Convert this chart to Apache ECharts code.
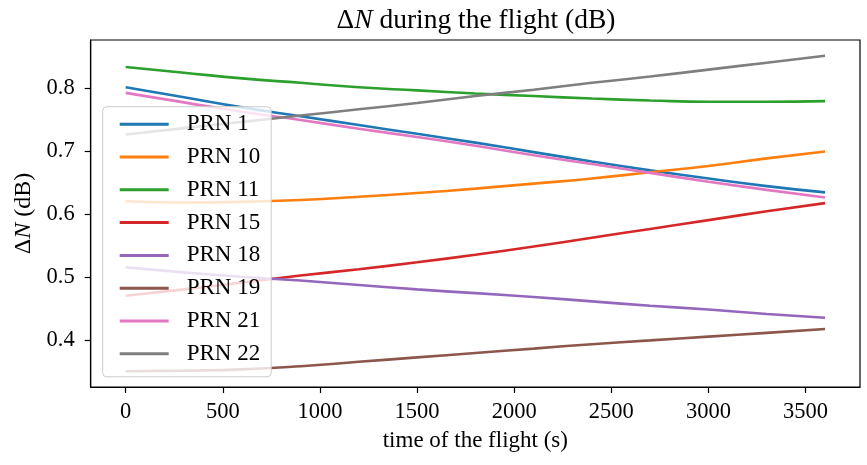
<!DOCTYPE html>
<html>
<head>
<meta charset="utf-8">
<script src="https://cdn.jsdelivr.net/npm/echarts@6/dist/echarts.min.js"></script>
<style>html,body{margin:0;padding:0;background:#fff}#c{width:867px;height:465px}</style>
</head>
<body>
<div id="c"></div>
<script>
const times = [0, 300, 600, 900, 1200, 1500, 1800, 2100, 2400, 2700, 3000, 3300, 3600];
const seriesNames = ['PRN 1', 'PRN 10', 'PRN 11', 'PRN 15', 'PRN 18', 'PRN 19', 'PRN 21', 'PRN 22'];
const prn1  = [0.802, 0.786, 0.770, 0.756, 0.742, 0.728, 0.714, 0.699, 0.684, 0.670, 0.657, 0.645, 0.635];
const prn10 = [0.621, 0.619, 0.620, 0.623, 0.628, 0.634, 0.641, 0.649, 0.657, 0.667, 0.677, 0.689, 0.700];
const prn11 = [0.834, 0.825, 0.816, 0.809, 0.802, 0.797, 0.792, 0.788, 0.784, 0.781, 0.779, 0.779, 0.780];
const prn15 = [0.471, 0.481, 0.492, 0.503, 0.513, 0.524, 0.536, 0.549, 0.563, 0.577, 0.591, 0.605, 0.618];
const prn18 = [0.516, 0.508, 0.501, 0.495, 0.488, 0.481, 0.475, 0.469, 0.462, 0.455, 0.449, 0.442, 0.436];
const prn19 = [0.351, 0.352, 0.354, 0.359, 0.366, 0.373, 0.380, 0.387, 0.394, 0.400, 0.406, 0.412, 0.418];
const prn21 = [0.793, 0.778, 0.763, 0.750, 0.736, 0.723, 0.709, 0.694, 0.680, 0.666, 0.652, 0.639, 0.627];
const prn22 = [0.727, 0.737, 0.747, 0.757, 0.767, 0.777, 0.788, 0.798, 0.809, 0.819, 0.830, 0.841, 0.852];
const xTicks = [0, 500, 1000, 1500, 2000, 2500, 3000, 3500];
const yTicks = [0.4, 0.5, 0.6, 0.7, 0.8];

const allValues = [prn1, prn10, prn11, prn15, prn18, prn19, prn21, prn22];
const colors = ['#1f77b4', '#ff7f0e', '#2ca02c', '#d62728', '#9467bd', '#8c564b', '#e377c2', '#7f7f7f'];
const FONT = '"Liberation Serif", "Times New Roman", serif';

const chart = echarts.init(document.getElementById('c'), null, {renderer: 'canvas'});
const series = seriesNames.map((n, i) => ({
  name: n,
  type: 'line',
  data: times.map((t, j) => [t, allValues[i][j]]),
  smooth: true,
  showSymbol: false,
  symbol: 'none',
  lineStyle: {color: colors[i], width: 2.6},
  itemStyle: {color: colors[i]},
  emphasis: {disabled: true},
  animation: false
}));

chart.setOption({
  animation: false,
  backgroundColor: '#fff',
  title: {
    text: '{a|Δ}{i|N}{a| during the flight (dB)}',
    left: 471, top: 2, textAlign: 'center',
    textStyle: {
      fontWeight: 'normal',
      rich: {
        a: {fontFamily: FONT, fontSize: 27.5, fontWeight: 'normal', color: '#000'},
        i: {fontFamily: FONT, fontSize: 27.5, fontWeight: 'normal', fontStyle: 'italic', color: '#000'}
      }
    }
  },
  grid: {left: 90.7, right: 7, top: 40, bottom: 78, show: true, borderColor: '#000', borderWidth: 1.2, containLabel: false},
  legend: {
    orient: 'vertical',
    left: 102.7, top: 106.7,
    data: seriesNames,
    icon: 'rect',
    itemWidth: 49, itemHeight: 3,
    itemGap: 9.8,
    padding: [6, 11, 11.5, 17],
    backgroundColor: 'rgba(255,255,255,0.8)',
    borderColor: '#cccccc', borderWidth: 1, borderRadius: 4,
    textStyle: {fontFamily: FONT, fontSize: 23, color: '#000', lineHeight: 20, height: 20, padding: [0, 0, 0, 13]},
    z: 10
  },
  xAxis: {
    type: 'value', min: -180, max: 3780,
    name: 'time of the flight (s)', nameLocation: 'middle', nameGap: 42,
    nameTextStyle: {fontFamily: FONT, fontSize: 23, color: '#000'},
    axisLine: {show: true, onZero: false, lineStyle: {color: '#000', width: 1.2}},
    axisTick: {show: true, customValues: xTicks, length: 6, lineStyle: {color: '#000', width: 1.2}},
    axisLabel: {customValues: xTicks, fontFamily: FONT, fontSize: 22.5, color: '#000', margin: 14, formatter: v => String(v)},
    splitLine: {show: false}
  },
  yAxis: {
    type: 'value', min: 0.326, max: 0.877,
    name: '{a|Δ}{i|N}{a| (dB)}', nameLocation: 'middle', nameGap: 55, nameRotate: 90,
    nameTextStyle: {rich: {
      a: {fontFamily: FONT, fontSize: 24, color: '#000'},
      i: {fontFamily: FONT, fontSize: 24, fontStyle: 'italic', color: '#000'}
    }},
    axisLine: {show: true, onZero: false, lineStyle: {color: '#000', width: 1.2}},
    axisTick: {show: true, customValues: yTicks, length: 6, lineStyle: {color: '#000', width: 1.2}},
    axisLabel: {customValues: yTicks, fontFamily: FONT, fontSize: 22.5, color: '#000', margin: 16, formatter: v => v.toFixed(1)},
    splitLine: {show: false}
  },
  series: series
});
</script>
</body>
</html>
